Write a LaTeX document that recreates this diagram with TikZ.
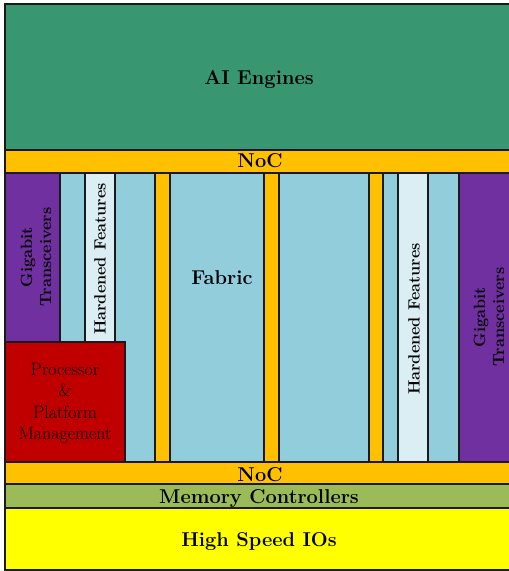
\documentclass[tikz,border=0pt]{standalone}
\usepackage{fontspec}
\definecolor{aieGreen}{RGB}{56,150,112}
\definecolor{nocYellow}{RGB}{255,192,0}
\definecolor{fabricBlue}{RGB}{146,205,220}
\definecolor{hardBlue}{RGB}{218,238,243}
\definecolor{gtPurple}{RGB}{112,48,160}
\definecolor{pmcRed}{RGB}{192,0,0}
\definecolor{memGreen}{RGB}{155,187,89}
\definecolor{ioYellow}{RGB}{255,255,0}
\definecolor{edgeGray}{RGB}{26,26,26}

\tikzset{
  block/.style={draw=edgeGray, line width=1.2pt},
  biglabel/.style={font=\fontsize{20}{22}\selectfont\bfseries, inner sep=0pt, anchor=base},
  sidelabel/.style={font=\fontsize{16.3}{19}\selectfont\bfseries, rotate=90, align=center, inner sep=0pt},
  pmlabel/.style={font=\fontsize{18}{21.4}\selectfont, align=center, inner sep=0pt},
}

\begin{document}
\begin{tikzpicture}[x=1pt,y=-1pt]
\useasboundingbox (0,0) rectangle (509,571);
\clip (0,0) rectangle (509,571);
\fill[white] (0,0) rectangle (509,571);
\draw[gray!45, line width=1pt] (5,3) -- (512,3);

% programmable logic region
\draw[block, fill=fabricBlue] (5,173) rectangle (512,462);
\draw[block, fill=gtPurple]   (5,173) rectangle (60,342);
\draw[block, fill=hardBlue]   (85,173) rectangle (115,342);
\draw[block, fill=nocYellow]  (155,173) rectangle (170,462);
\draw[block, fill=nocYellow]  (264,173) rectangle (279,462);
\draw[block, fill=nocYellow]  (369,173) rectangle (383,462);
\draw[block, fill=hardBlue]   (398,173) rectangle (428,462);
\draw[block, fill=gtPurple]   (459,173) rectangle (512,462);
\draw[block, fill=pmcRed]     (5,342) rectangle (125,462);

% horizontal bands
\draw[block, fill=aieGreen]  (5,4) rectangle (512,150);
\draw[block, fill=nocYellow] (5,150) rectangle (512,173);
\draw[block, fill=nocYellow] (5,462) rectangle (512,484);
\draw[block, fill=memGreen]  (5,484) rectangle (512,508);
\draw[block, fill=ioYellow]  (5,508) rectangle (512,570);

% labels
\node[biglabel] (aie)    at (259,84.3) {AI Engines};
\node[biglabel] (noctop) at (260,167.7) {NoC};
\node[biglabel] (fabric) at (222,284) {Fabric};
\node[biglabel] (nocbot) at (260,481) {NoC};
\node[biglabel] (mem)    at (259,503) {Memory Controllers};
\node[biglabel] (hsio)   at (259,546.7) {High Speed IOs};

\node[sidelabel] (gtl) at (36,257) {Gigabit\\Transceivers};
\node[sidelabel] (hfl) at (100,259) {Hardened Features};
\node[sidelabel] (hfr) at (414,319) {Hardened Features};
\node[sidelabel] (gtr) at (489,317) {Gigabit\\Transceivers};

\node[pmlabel] (pmc) at (65,403) {Processor\\\&\\Platform\\Management};
\end{tikzpicture}
\end{document}
